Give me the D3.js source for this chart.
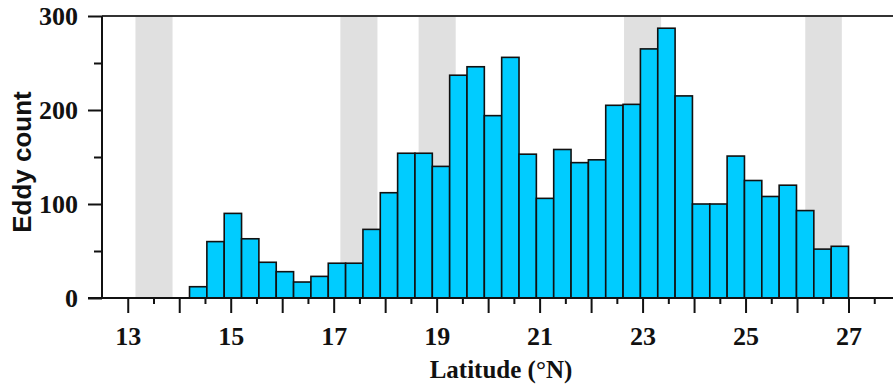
<!DOCTYPE html>
<html>
<head>
<meta charset="utf-8">
<script src="https://cdn.jsdelivr.net/npm/d3@7"></script>
<style>
  html, body { margin: 0; padding: 0; background: #fff; }
  svg { display: block; }
</style>
</head>
<body>
<article></article>
<script>
// Data
const counts = [
  12, 60, 90, 63, 38, 28, 17, 23, 37, 37, 73, 112, 154, 154, 140, 237, 246,
  194, 256, 153, 106, 158, 144, 147, 205, 206, 265, 287, 215, 100, 100, 151,
  125, 108, 120, 93, 52, 55,
];
const latStart = 14.2; // left edge of first bin
const latEnd = 27; // right edge of last bin
const shadedBands = [
  [13.15, 13.87],
  [17.13, 17.85],
  [18.65, 19.37],
  [22.64, 23.36],
  [26.16, 26.87],
];
const yTicks = [0, 100, 200, 300];
const yMinorTicks = [50, 150, 250];
const xLabelTicks = [13, 15, 17, 19, 21, 23, 25, 27];

(() => {
  window.addEventListener('DOMContentLoaded', () => {
    // Constants
    const WIDTH = 893;
    const HEIGHT = 389;
    const margin = { top: 16, right: -7, bottom: 91, left: 102 };
    const serif = "'Liberation Serif', 'Times New Roman', serif";
    const sans = "'Liberation Sans', Arial, sans-serif";

    const binWidth = (latEnd - latStart) / counts.length;
    const bins = counts.map((c, i) => ({
      x0: latStart + i * binWidth,
      x1: latStart + (i + 1) * binWidth,
      count: c,
    }));

    // Scales
    const x = d3
      .scaleLinear()
      .domain([12.5, 28])
      .range([margin.left, WIDTH - margin.right]);
    const y = d3
      .scaleLinear()
      .domain([0, 300])
      .range([HEIGHT - margin.bottom, margin.top]);

    const svg = d3
      .select('article')
      .append('svg')
      .attr('width', WIDTH)
      .attr('height', HEIGHT)
      .attr('viewBox', `0 0 ${WIDTH} ${HEIGHT}`);

    // grey latitude bands
    svg
      .append('g')
      .selectAll('rect')
      .data(shadedBands)
      .join('rect')
      .attr('x', (d) => x(d[0]))
      .attr('y', y(300))
      .attr('width', (d) => x(d[1]) - x(d[0]))
      .attr('height', y(0) - y(300))
      .attr('fill', '#e0e0e0');

    // histogram bars
    svg
      .append('g')
      .selectAll('rect')
      .data(bins)
      .join('rect')
      .attr('x', (d) => x(d.x0))
      .attr('y', (d) => y(d.count))
      .attr('width', (d) => x(d.x1) - x(d.x0))
      .attr('height', (d) => y(0) - y(d.count))
      .attr('fill', '#00ccff')
      .attr('stroke', '#111')
      .attr('stroke-width', 1.6);

    // top border
    svg
      .append('line')
      .attr('x1', x(12.5))
      .attr('x2', WIDTH)
      .attr('y1', y(300))
      .attr('y2', y(300))
      .attr('stroke', '#333')
      .attr('stroke-width', 2);

    // x axis: long ticks on whole degrees, short on halves
    const xAxis = svg
      .append('g')
      .attr('transform', `translate(0,${y(0)})`);
    xAxis
      .call(
        d3
          .axisBottom(x)
          .tickValues(d3.range(13, 28.01, 1))
          .tickSize(15)
          .tickFormat((d) => (xLabelTicks.includes(d) ? d : ''))
      )
      .call((g) => g.select('.domain').remove())
      .call((g) =>
        g
          .selectAll('.tick line')
          .attr('stroke', '#111')
          .attr('stroke-width', 2)
      )
      .call((g) =>
        g
          .selectAll('.tick text')
          .attr('y', 47)
          .attr('dy', null)
          .attr('fill', '#111')
          .style('font-family', serif)
          .style('font-weight', 'bold')
          .style('font-size', '26px')
      );
    xAxis
      .append('g')
      .call(
        d3
          .axisBottom(x)
          .tickValues(d3.range(13.5, 28, 1))
          .tickSize(6)
          .tickFormat('')
      )
      .call((g) => g.select('.domain').remove())
      .call((g) =>
        g
          .selectAll('.tick line')
          .attr('stroke', '#111')
          .attr('stroke-width', 2)
      );
    xAxis
      .append('line')
      .attr('x1', x(12.5) - 14)
      .attr('x2', WIDTH)
      .attr('stroke', '#111')
      .attr('stroke-width', 2);

    // y axis
    const yAxis = svg
      .append('g')
      .attr('transform', `translate(${x(12.5)},0)`);
    yAxis
      .call(d3.axisLeft(y).tickValues(yTicks).tickSize(14).tickPadding(10))
      .call((g) =>
        g
          .select('.domain')
          .attr('stroke', '#111')
          .attr('stroke-width', 2)
          .attr('d', `M0,${y(0)}V${y(300)}`)
      )
      .call((g) =>
        g
          .selectAll('.tick line')
          .attr('stroke', '#111')
          .attr('stroke-width', 2)
      )
      .call((g) =>
        g
          .selectAll('.tick text')
          .attr('fill', '#111')
          .style('font-family', serif)
          .style('font-weight', 'bold')
          .style('font-size', '26px')
      );
    yAxis
      .append('g')
      .call(d3.axisLeft(y).tickValues(yMinorTicks).tickSize(8).tickFormat(''))
      .call((g) => g.select('.domain').remove())
      .call((g) =>
        g
          .selectAll('.tick line')
          .attr('stroke', '#111')
          .attr('stroke-width', 2)
      );

    // axis titles
    svg
      .append('text')
      .attr('x', 501)
      .attr('y', 378)
      .attr('text-anchor', 'middle')
      .attr('fill', '#111')
      .style('font-family', serif)
      .style('font-weight', 'bold')
      .style('font-size', '25px')
      .text('Latitude (°N)');

    svg
      .append('text')
      .attr('transform', 'translate(31,162) rotate(-90)')
      .attr('text-anchor', 'middle')
      .attr('fill', '#111')
      .style('font-family', sans)
      .style('font-weight', 'bold')
      .style('font-size', '26px')
      .text('Eddy count');
  });
})();
</script>
</body>
</html>
